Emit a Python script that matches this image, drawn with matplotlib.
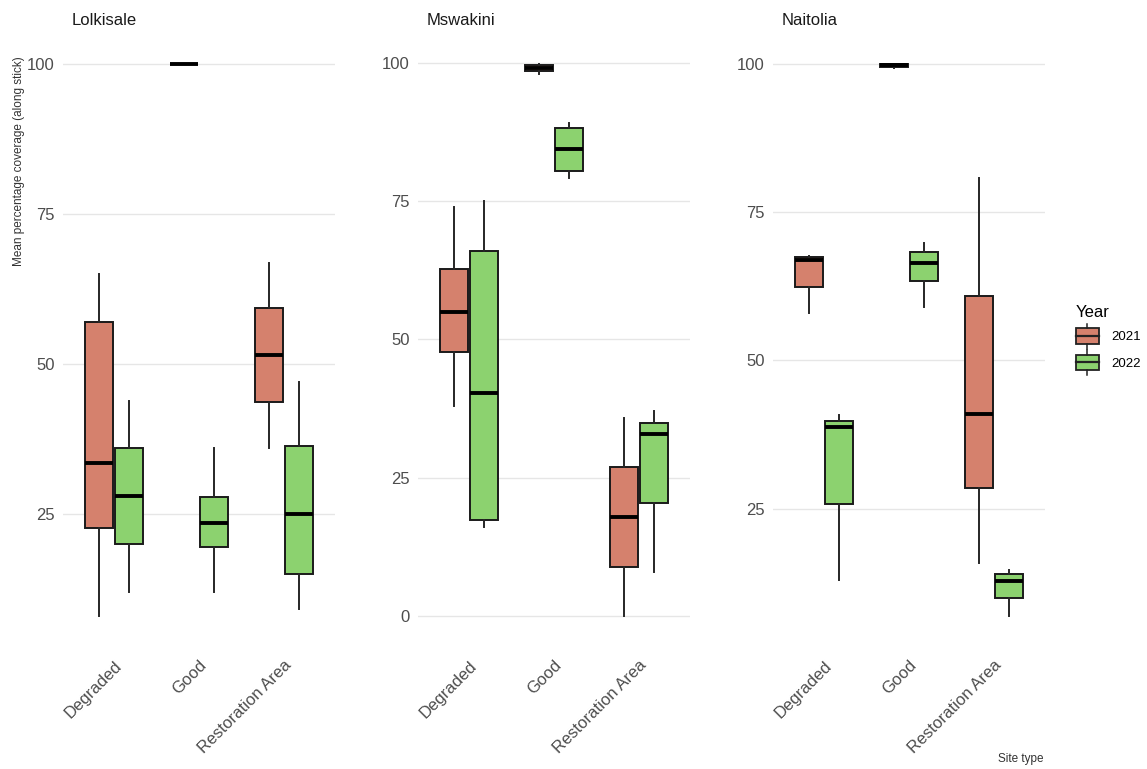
import numpy as np
import matplotlib
matplotlib.use('Agg')
import matplotlib.pyplot as plt
from matplotlib.legend_handler import HandlerBase
from matplotlib.patches import Rectangle
from matplotlib.lines import Line2D

plt.rcParams['font.family'] = ['Liberation Sans', 'DejaVu Sans']

sites = ['Lolkisale', 'Mswakini', 'Naitolia']
site_types = ['Degraded', 'Good', 'Restoration Area']
years = ['2021', '2022']
colors = {'2021': '#d5816d', '2022': '#8cd26f'}

# five-number summaries per site type: (lower whisker, q1, median, q3, upper whisker)
lolkisale_2021 = [(8, 22.7, 33.5, 57, 65), (100, 100, 100, 100, 100), (36, 43.7, 51.5, 59.3, 66.8)]
lolkisale_2022 = [(12, 20, 28, 36, 43.8), (12, 19.5, 23.5, 27.8, 36), (9.2, 15, 25, 36.3, 47)]
mswakini_2021 = [(38, 47.8, 55, 62.8, 73.9), (98, 98.4, 99, 99.5, 99.8), (0, 8.9, 18, 27, 35.9)]
mswakini_2022 = [(16.1, 17.4, 40.4, 66, 75), (79.1, 80.4, 84.4, 88.2, 89), (8, 20.5, 33, 35, 37)]
naitolia_2021 = [(58, 62.4, 67, 67.4, 67.6), (99.2, 99.5, 99.8, 100, 100), (15.9, 28.5, 41, 60.9, 80.8)]
naitolia_2022 = [(13, 25.8, 38.8, 39.8, 40.8), (59, 63.4, 66.4, 68.3, 69.8), (6.9, 10, 12.8, 14, 14.7)]

data = {
    'Lolkisale': {'2021': lolkisale_2021, '2022': lolkisale_2022},
    'Mswakini': {'2021': mswakini_2021, '2022': mswakini_2022},
    'Naitolia': {'2021': naitolia_2021, '2022': naitolia_2022},
}
yticks = [0, 25, 50, 75, 100]


class BoxKey(HandlerBase):
    # legend key drawn like a small boxplot
    def create_artists(self, legend, orig, xd, yd, w, h, fs, trans):
        c = orig.get_facecolor()
        x0, y0 = -xd, -yd
        box = Rectangle((x0, y0 + 0.1 * h), w, 0.8 * h, facecolor=c, edgecolor='#222222',
                        lw=1.3, transform=trans)
        med = Line2D([x0, x0 + w], [y0 + 0.5 * h] * 2, color='#222222', lw=1.6, transform=trans)
        wt = Line2D([x0 + w / 2] * 2, [y0 + 0.9 * h, y0 + 1.15 * h], color='#222222', lw=1.1, transform=trans)
        wb = Line2D([x0 + w / 2] * 2, [y0 - 0.15 * h, y0 + 0.1 * h], color='#222222', lw=1.1, transform=trans)
        return [box, med, wt, wb]


fig = plt.figure(figsize=(11.47, 7.69), dpi=100)
lefts = [63, 418, 773]
bw = 0.35
x = np.arange(1, len(site_types) + 1)

for i, site in enumerate(sites):
    ax = fig.add_axes([lefts[i] / 1147, 1 - 644 / 769, 272 / 1147, 608 / 769])
    allv = []
    for j, yr in enumerate(years):
        off = (j - 0.5) * bw
        stats, pos = [], []
        for k, s in enumerate(data[site][yr]):
            lo, q1, med, q3, hi = s
            stats.append({'whislo': lo, 'q1': q1, 'med': med, 'q3': q3, 'whishi': hi, 'fliers': []})
            pos.append(x[k] + off)
            allv += [lo, hi]
        ax.bxp(stats, positions=pos, widths=bw * 0.95, patch_artist=True, showcaps=False,
               boxprops=dict(facecolor=colors[yr], edgecolor='#1a1a1a', linewidth=1.4),
               medianprops=dict(color='black', linewidth=2.8),
               whiskerprops=dict(color='#262626', linewidth=1.4), zorder=3)
    lo, hi = min(allv), max(allv)
    pad = (hi - lo) * 0.05
    ax.set_ylim(lo - pad, hi + pad)
    ax.set_xlim(0.4, 3.6)
    ax.set_yticks([t for t in yticks if lo - pad <= t <= hi + pad])
    ax.set_xticks(x)
    ax.set_xticklabels(site_types, rotation=45, ha='right', rotation_mode='anchor')
    ax.tick_params(axis='both', length=0, labelsize=12, colors='#4d4d4d', pad=6)
    ax.tick_params(axis='x', pad=10)
    ax.yaxis.grid(True, color='#e6e6e6', linewidth=1.0, zorder=0)
    ax.xaxis.grid(False)
    ax.set_axisbelow(True)
    for sp in ax.spines.values():
        sp.set_visible(False)
    ax.text(0.03, 1.026, site, transform=ax.transAxes, fontsize=12, color='#1a1a1a',
            ha='left', va='center')

fig.text(19 / 1147, 1 - 161 / 769, 'Mean percentage coverage (along stick)', rotation=90,
         fontsize=8.5, color='#333333', ha='center', va='center')
fig.text(1043 / 1147, 1 - 759 / 769, 'Site type', fontsize=8.5, color='#333333',
         ha='right', va='center')

handles = [Rectangle((0, 0), 1, 1, facecolor=colors[yr]) for yr in years]
fig.legend(handles, years, title='Year', handler_map={Rectangle: BoxKey()},
           loc='upper left', bbox_to_anchor=(1064 / 1147, 1 - 293 / 769), frameon=False,
           fontsize=9.5, title_fontsize=12, handlelength=1.75, handleheight=1.9,
           labelspacing=0.5, handletextpad=0.9, alignment='left')

fig.savefig('out.png', dpi=100)
